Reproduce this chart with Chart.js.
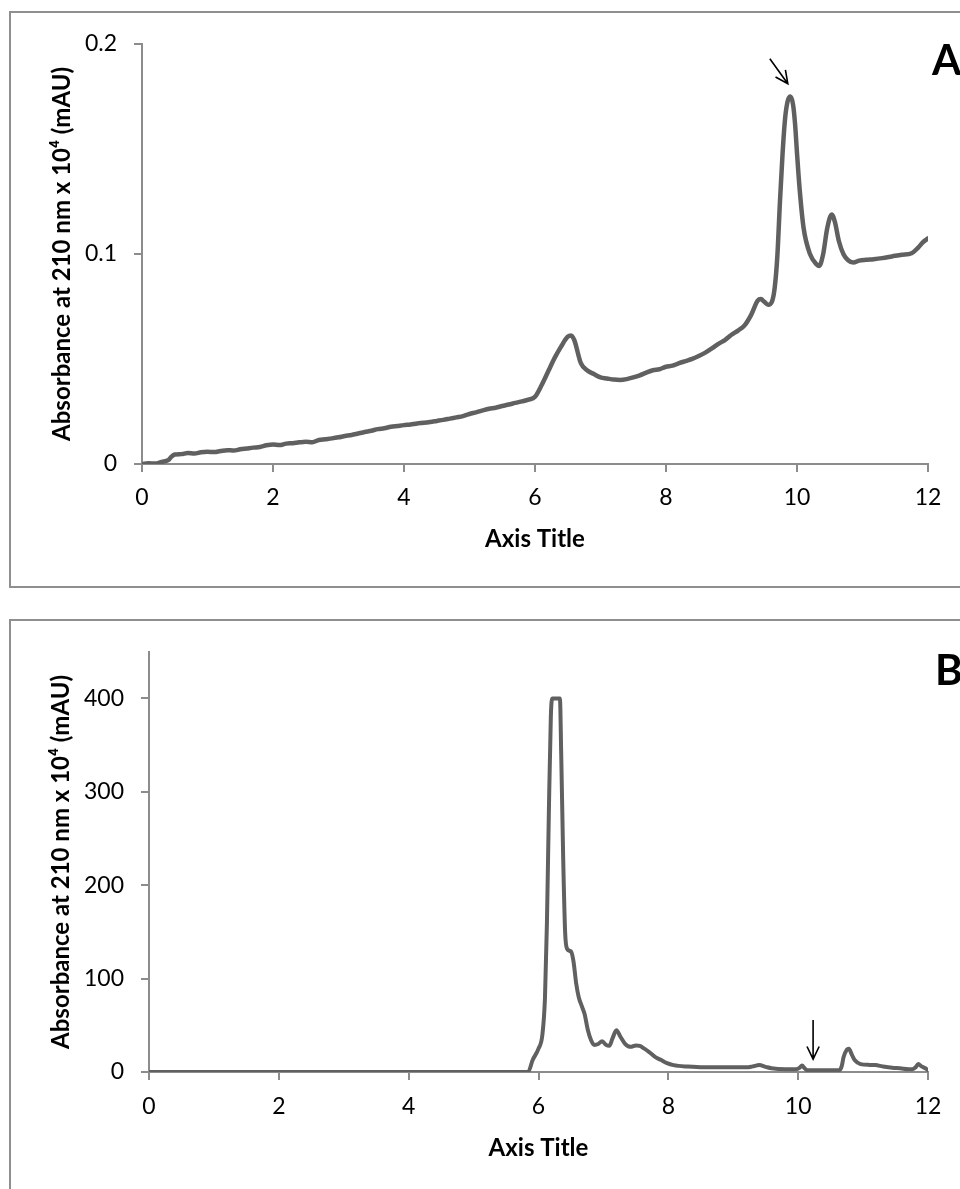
<!DOCTYPE html>
<html>
<head>
<meta charset="utf-8">
<script src="https://cdn.jsdelivr.net/npm/chart.js@4.4.1/dist/chart.umd.min.js"></script>
<style>
  html, body { margin: 0; padding: 0; background: #fff; overflow: hidden; width: 960px; height: 1189px; }
  .panel { position: absolute; left: 9px; border: 2px solid #8f8f8f; background: #fff; }
  #panelA { top: 11px; width: 990px; height: 573px; }
  #panelB { top: 619px; width: 990px; height: 600px; }
  canvas { display: block; }
</style>
</head>
<body>
<div class="panel" id="panelA"><canvas id="chartA" width="990" height="573"></canvas></div>
<div class="panel" id="panelB"><canvas id="chartB" width="990" height="600"></canvas></div>
<script>
// Panel A: retention time (min) vs absorbance
const timeA = [0, 0.1, 0.2, 0.3, 0.4, 0.45, 0.5, 0.6, 0.7, 0.8, 0.9, 1.0, 1.1, 1.2, 1.3, 1.4, 1.5, 1.6, 1.7, 1.8, 1.9,
  2.0, 2.1, 2.2, 2.3, 2.4, 2.5, 2.6, 2.7, 2.8, 2.9, 3.0, 3.1, 3.2, 3.3, 3.4, 3.5, 3.6, 3.7, 3.8, 3.9,
  4.0, 4.1, 4.2, 4.3, 4.4, 4.5, 4.6, 4.7, 4.8, 4.9, 5.0, 5.1, 5.2, 5.3, 5.4, 5.5, 5.6, 5.7, 5.8, 5.9,
  6.0, 6.1, 6.2, 6.3, 6.4, 6.5, 6.55, 6.6, 6.7, 6.8, 6.9, 7.0, 7.1, 7.2, 7.3, 7.4, 7.5, 7.6, 7.7, 7.8, 7.9,
  8.0, 8.1, 8.2, 8.3, 8.4, 8.5, 8.6, 8.7, 8.8, 8.9, 9.0, 9.1, 9.2, 9.3, 9.4, 9.45, 9.5, 9.56, 9.62, 9.66,
  9.70, 9.74, 9.78, 9.82, 9.86, 9.90, 9.94, 9.97, 10.00, 10.04, 10.10, 10.20, 10.30, 10.34, 10.40, 10.46,
  10.53, 10.58, 10.64, 10.71, 10.78, 10.86, 10.95, 11.05, 11.17, 11.3, 11.45, 11.6, 11.75, 11.85, 11.92, 12.0];
const absA = [0, 0.0003, 0.0002, 0.0010, 0.0018, 0.0035, 0.0045, 0.0047, 0.0052, 0.0050, 0.0056, 0.0058, 0.0057, 0.0062, 0.0066, 0.0064, 0.0070, 0.0074, 0.0078, 0.0081, 0.0089,
  0.0093, 0.0090, 0.0097, 0.0099, 0.0103, 0.0106, 0.0104, 0.0114, 0.0118, 0.0122, 0.0127, 0.0133, 0.0138, 0.0145, 0.0152, 0.0158, 0.0166, 0.0170, 0.0177, 0.0181,
  0.0185, 0.0188, 0.0193, 0.0196, 0.0200, 0.0205, 0.0210, 0.0216, 0.0222, 0.0228, 0.0238, 0.0246, 0.0255, 0.0263, 0.0268, 0.0276, 0.0283, 0.0291, 0.0298, 0.0306,
  0.0320, 0.0375, 0.0440, 0.0505, 0.0560, 0.0606, 0.0612, 0.0590, 0.0480, 0.0445, 0.0428, 0.0412, 0.0407, 0.0402, 0.0400, 0.0404, 0.0412, 0.0422, 0.0435, 0.0446, 0.0451,
  0.0463, 0.0468, 0.0480, 0.0490, 0.0500, 0.0514, 0.0530, 0.0550, 0.0572, 0.0590, 0.0615, 0.0635, 0.0660, 0.0710, 0.0778, 0.0785, 0.0772, 0.0758, 0.0775, 0.0840,
  0.0990, 0.1250, 0.1480, 0.1650, 0.1730, 0.1749, 0.1710, 0.1620, 0.1480, 0.1310, 0.1125, 0.0998, 0.0950, 0.0943, 0.1000, 0.1120,
  0.1188, 0.1150, 0.1060, 0.0998, 0.0970, 0.0959, 0.0968, 0.0972, 0.0975, 0.0980, 0.0988, 0.0996, 0.1003, 0.1030, 0.1055, 0.1074];

// Panel B
const timeB = [0, 1, 2, 3, 4, 5, 5.84, 5.91, 6.0, 6.06, 6.1, 6.13, 6.16, 6.19, 6.21, 6.33, 6.35, 6.38, 6.41, 6.44,
  6.50, 6.54, 6.58, 6.62, 6.67, 6.71, 6.76, 6.81, 6.86, 6.92, 6.98, 7.04, 7.09, 7.14, 7.2, 7.26, 7.33, 7.42,
  7.5, 7.56, 7.63, 7.70, 7.8, 7.89, 7.98, 8.08, 8.3, 8.55, 8.9, 9.21, 9.3, 9.40, 9.5, 9.59, 9.8, 9.97,
  10.02, 10.06, 10.1, 10.14, 10.4, 10.63, 10.67, 10.70, 10.75, 10.78, 10.83, 10.87, 10.96, 11.1, 11.19,
  11.3, 11.45, 11.57, 11.7, 11.76, 11.81, 11.85, 11.9, 11.96, 12.0];
const absB = [0, 0, 0, 0, 0, 0, 0, 12.8, 25, 40, 80, 160, 280, 380, 400, 400, 340, 230, 150, 132,
  129, 118, 95, 80, 70, 62, 45, 34, 29, 30, 33, 29, 28, 36, 44.7, 38, 30.5, 27,
  28.5, 28, 25, 21.6, 16, 12.8, 9.5, 7.4, 5.8, 5, 5, 5, 6, 7.4, 5.5, 4, 3, 3,
  4.5, 7, 4, 2, 2, 2, 6, 16, 24, 25, 18, 12.8, 8.5, 7.6, 7.4,
  6, 4.5, 4, 3, 3, 5, 8.5, 6, 4, 2];

const xTicks = [0, 2, 4, 6, 8, 10, 12];
const yTicksA = [0, 0.1, 0.2];
const yTicksB = [0, 100, 200, 300, 400];

const axisColor = '#8c8c8c';
const lineColor = '#606060';
const yTitle = 'Absorbance at 210 nm x 10\u2074 (mAU)';

// panel letter + arrow pointing at a peak
const markPlugin = {
  id: 'marks',
  afterDatasetsDraw(chart, args, opts) {
    const ctx = chart.ctx;
    const xs = chart.scales.x, ys = chart.scales.y;
    const tx = xs.getPixelForValue(opts.arrow.x);
    const ty = ys.getPixelForValue(opts.arrow.y);
    const fx = tx + opts.arrow.dx, fy = ty + opts.arrow.dy;
    const ang = Math.atan2(ty - fy, tx - fx);
    const h = 14, spread = 0.45;
    ctx.save();
    ctx.strokeStyle = '#000';
    ctx.lineWidth = 1.6;
    ctx.beginPath();
    ctx.moveTo(fx, fy);
    ctx.lineTo(tx, ty);
    ctx.moveTo(tx - h * Math.cos(ang - spread), ty - h * Math.sin(ang - spread));
    ctx.lineTo(tx, ty);
    ctx.lineTo(tx - h * Math.cos(ang + spread), ty - h * Math.sin(ang + spread));
    ctx.stroke();

    ctx.fillStyle = '#000';
    ctx.font = 'bold 42px Lato';
    ctx.textBaseline = 'alphabetic';
    ctx.textAlign = 'left';
    ctx.fillText(opts.letter, chart.chartArea.right + opts.letterDx, opts.letterY);
    ctx.restore();
  }
};

function makeChart(id, xsArr, ysArr, cfg) {
  const points = xsArr.map((x, i) => ({ x: x, y: ysArr[i] }));
  return new Chart(document.getElementById(id), {
    type: 'line',
    data: {
      datasets: [{
        data: points,
        borderColor: lineColor,
        borderWidth: cfg.lineWidth,
        pointRadius: 0,
        cubicInterpolationMode: 'monotone',
        borderJoinStyle: 'round',
        borderCapStyle: 'round',
        fill: false
      }]
    },
    options: {
      responsive: false,
      animation: false,
      devicePixelRatio: 1,
      layout: { padding: { left: 0, top: cfg.top, right: 73, bottom: 0 } },
      plugins: {
        legend: { display: false },
        tooltip: { enabled: false },
        marks: cfg.marks
      },
      scales: {
        x: {
          type: 'linear',
          min: 0,
          max: 12,
          afterBuildTicks: axis => { axis.ticks = xTicks.map(v => ({ value: v })); },
          afterFit: scale => { scale.height = cfg.xHeight; },
          border: { display: true, color: axisColor, width: 2 },
          grid: { drawOnChartArea: false, drawTicks: true, tickLength: 8, color: axisColor, lineWidth: 2 },
          ticks: { color: '#000', padding: cfg.xTickPad, font: { family: 'Lato', size: 23 }, maxRotation: 0 },
          title: {
            display: true,
            text: 'Axis Title',
            color: '#000',
            font: { family: 'Lato', size: 24, weight: 'bold' },
            padding: { top: 0, bottom: cfg.xTitlePad }
          }
        },
        y: {
          type: 'linear',
          min: 0,
          max: cfg.yMax,
          afterBuildTicks: axis => { axis.ticks = cfg.yTicks.map(v => ({ value: v })); },
          afterFit: scale => { scale.width = cfg.yWidth; },
          border: { display: true, color: axisColor, width: 2 },
          grid: { drawOnChartArea: false, drawTicks: true, tickLength: 8, color: axisColor, lineWidth: 2 },
          ticks: { color: '#000', padding: 17, font: { family: 'Lato', size: 23 } },
          title: {
            display: true,
            text: yTitle,
            color: '#000',
            font: { family: 'Lato', size: 24, weight: 'bold' },
            padding: { top: cfg.yTitlePad, bottom: 0 }
          }
        }
      }
    },
    plugins: [markPlugin]
  });
}

makeChart('chartA', timeA, absA, {
  lineWidth: 4.5,
  top: 29,
  yWidth: 131,
  xHeight: 122,
  yMax: 0.2,
  yTicks: yTicksA,
  xTickPad: 12,
  xTitlePad: 32,
  yTitlePad: 37,
  marks: { letter: 'A', letterDx: 4, letterY: 62, arrow: { x: 9.86, y: 0.181, dx: -18, dy: -25 } }
});

makeChart('chartB', timeB, absB, {
  lineWidth: 4,
  top: 28,
  yWidth: 138,
  xHeight: 149,
  yMax: 450,
  yTicks: yTicksB,
  xTickPad: 13,
  xTitlePad: 58,
  yTitlePad: 36,
  marks: { letter: 'B', letterDx: 7, letterY: 64, arrow: { x: 10.23, y: 13.8, dx: 0, dy: -39 } }
});
</script>
</body>
</html>
